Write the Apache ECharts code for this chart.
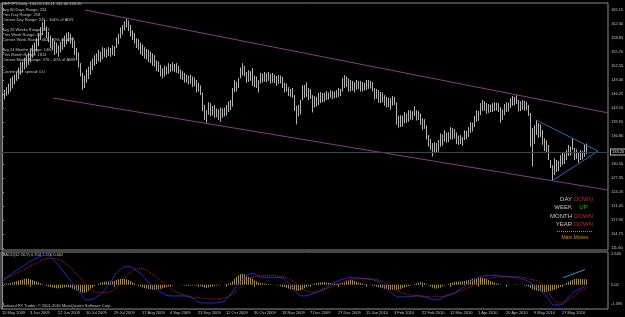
<!DOCTYPE html>
<html>
<head>
<meta charset="utf-8">
<script src="https://cdn.jsdelivr.net/npm/echarts@6/dist/echarts.min.js"></script>
<style>
html,body{margin:0;padding:0;background:#000;}
#main{width:625px;height:317px;}
</style>
</head>
<body>
<div id="main"></div>
<script>
// GBPJPY daily, 15 May 2009 .. Jun 2010, one bar per index
var dateLabels = ['15 May 2009','3 Jun 2009','22 Jun 2009','10 Jul 2009','29 Jul 2009','17 Aug 2009','4 Sep 2009',
	'23 Sep 2009','12 Oct 2009','30 Oct 2009','18 Nov 2009','7 Dec 2009','27 Dec 2009','15 Jan 2010','3 Feb 2010',
	'22 Feb 2010','12 Mar 2010','1 Apr 2010','20 Apr 2010','9 May 2010','27 May 2010'];
var dateIdx = [0,14,28,42,56,70,84,98,112,126,140,154,168,182,196,210,224,238,252,266,280];

var priceTicks = [111.60,114.75,117.90,121.05,124.20,127.35,130.50,136.80,139.95,143.10,146.25,149.40,152.55,155.70,158.85,162.00,165.15];
var macdTicks = [2.64,0,-1.595];
var macdTickText = ['2.640','0.00','-1.595'];
var bidPrice = 133.20;

var barLow = [
	143.2,145.0,145.8,146.2,146.8,147.5,148.4,149.2,149.6,150.6,
	151.2,151.8,152.2,152.8,153.4,154.4,155.0,155.8,157.0,158.4,
	159.6,160.6,158.8,157.9,156.6,156.2,155.0,155.4,154.6,155.6,
	156.2,156.8,157.4,158.0,157.6,156.6,155.0,153.8,152.2,150.2,
	147.2,147.6,148.8,149.6,150.6,151.6,152.6,153.0,153.6,153.4,
	154.0,154.6,154.4,154.8,154.6,155.0,154.8,156.6,157.4,158.8,
	159.6,160.6,161.2,160.4,159.2,158.4,157.6,156.6,156.2,155.2,
	154.8,154.2,154.0,153.4,153.2,152.6,152.4,151.4,151.2,150.2,
	149.8,150.2,150.6,150.8,151.2,151.4,151.2,151.0,150.8,149.6,
	149.4,148.8,148.8,148.4,148.6,147.8,148.0,146.6,146.8,146.0,
	142.4,140.4,139.8,141.6,141.2,141.4,140.9,141.0,140.4,140.0,
	140.9,141.2,141.4,142.2,142.6,143.4,146.7,146.8,147.6,149.8,
	150.4,150.2,148.8,149.0,149.2,148.1,147.8,147.6,146.6,148.6,
	148.8,149.0,148.9,149.2,148.6,148.8,148.7,148.1,148.5,148.6,
	147.6,146.6,146.8,145.8,145.6,145.4,142.4,139.4,141.2,141.6,
	144.8,145.4,145.6,144.9,145.2,142.1,143.2,143.4,143.8,144.2,
	144.4,144.5,144.9,145.0,145.4,145.1,145.3,145.4,145.6,145.8,
	146.8,147.6,147.8,146.8,146.8,147.0,146.6,147.2,147.4,146.8,
	146.8,147.0,147.2,147.4,147.5,146.8,145.0,145.2,144.3,144.2,
	144.4,143.6,143.2,143.3,142.7,143.6,143.8,139.4,138.7,138.8,
	138.9,139.6,139.8,140.0,140.5,140.4,141.3,140.3,140.4,139.3,
	138.2,138.4,136.0,134.4,133.7,132.2,133.0,133.2,133.3,134.4,
	134.6,135.5,135.3,135.4,136.0,136.0,136.2,135.0,134.8,135.0,
	134.6,135.9,136.1,136.6,137.5,137.8,138.8,140.0,140.2,141.5,
	142.4,142.5,141.8,142.0,142.2,142.2,142.4,142.5,142.2,139.8,
	140.4,141.5,142.2,142.3,143.1,143.6,143.7,144.0,142.3,142.4,
	142.7,142.5,142.6,141.3,134.4,130.0,135.0,137.0,136.4,136.6,
	134.8,133.4,133.2,131.4,129.6,126.9,128.0,128.7,128.9,129.8,
	130.3,130.5,131.4,132.3,132.4,133.7,131.4,131.6,130.8,131.4,
	131.5,132.1,132.66];
var barHigh = [
	146.6,147.2,147.8,148.6,149.8,150.2,150.6,151.3,152.2,153.4,
	153.6,154.4,155.0,155.6,156.4,157.3,157.8,158.8,159.9,161.3,
	162.4,162.9,161.4,160.2,159.4,158.8,158.2,157.8,157.2,158.0,
	158.8,159.4,160.0,160.2,159.8,159.0,158.2,156.6,155.6,153.2,
	151.0,150.4,151.8,152.4,153.6,154.2,155.0,155.4,156.2,155.8,
	156.8,156.6,156.4,156.8,156.6,157.2,157.0,159.0,159.8,161.2,
	161.8,162.6,163.3,162.8,161.8,160.6,160.0,158.8,158.6,157.8,
	157.4,156.8,156.4,156.2,155.8,155.4,155.0,153.8,153.6,152.8,
	152.0,152.6,152.4,153.2,153.0,153.4,153.0,153.2,152.6,151.8,
	151.4,151.0,150.6,150.4,150.6,150.2,150.0,149.4,148.8,148.2,
	146.6,143.8,142.6,144.4,144.2,143.6,143.8,143.0,142.8,143.2,
	143.0,143.2,143.8,144.6,144.9,147.6,149.4,149.0,149.8,152.2,
	153.2,152.6,151.2,151.6,151.4,152.1,150.4,150.2,149.4,151.0,
	150.8,151.2,151.0,151.2,150.8,151.0,150.6,150.3,150.5,150.4,
	150.1,148.8,148.6,147.8,147.4,147.6,146.0,143.6,143.8,144.9,
	148.2,148.3,148.9,147.6,147.4,146.0,145.8,145.6,146.5,146.7,
	146.5,146.5,146.9,146.6,147.1,146.9,146.8,147.1,147.6,147.4,
	149.8,150.5,150.2,149.8,149.4,149.2,148.9,149.4,149.2,149.2,
	148.9,148.8,149.4,149.4,149.2,148.9,147.6,147.4,147.1,146.7,
	146.6,146.0,145.6,145.4,145.3,145.8,145.6,144.4,141.4,141.5,
	141.4,142.2,141.9,142.6,142.6,142.4,143.5,142.6,142.4,141.9,
	140.8,140.6,139.2,137.0,136.2,135.2,135.4,135.2,135.9,137.4,
	137.2,138.1,137.6,137.7,138.8,138.6,138.4,137.6,136.9,137.0,
	136.6,138.1,138.0,138.8,139.9,139.8,141.3,142.6,142.4,144.2,
	144.9,144.6,144.2,144.0,143.9,144.2,144.4,144.3,144.2,143.3,
	142.8,144.0,144.4,144.3,145.3,145.8,145.6,146.0,144.9,144.6,
	144.9,144.7,144.5,143.8,142.0,138.6,139.2,140.4,139.7,139.4,
	138.1,136.3,135.8,134.8,131.4,130.2,131.8,131.4,131.2,132.5,
	133.2,132.9,133.6,134.8,134.4,136.3,134.1,133.8,133.2,133.6,
	133.4,134.8,135.11];

// MACD(12,26,9) histogram, one value per bar
var macdHist = [
	0.05,0.08,0.1,0.1,0.15,0.2,0.25,0.3,0.35,0.4,
	0.45,0.5,0.52,0.5,0.45,0.4,0.33,0.27,0.2,0.12,
	0.05,-0.02,-0.1,-0.15,-0.2,-0.24,-0.28,-0.3,-0.3,-0.28,
	-0.25,-0.22,-0.2,-0.22,-0.26,-0.32,-0.4,-0.48,-0.56,-0.62,
	-0.68,-0.68,-0.6,-0.5,-0.38,-0.25,-0.12,0.0,0.1,0.18,
	0.22,0.25,0.26,0.27,0.28,0.3,0.34,0.4,0.46,0.5,
	0.52,0.5,0.46,0.4,0.32,0.22,0.12,0.02,-0.08,-0.15,
	-0.22,-0.28,-0.32,-0.36,-0.4,-0.42,-0.42,-0.4,-0.38,-0.34,
	-0.3,-0.25,-0.2,-0.15,-0.1,-0.06,-0.03,0.0,0.02,0.0,
	-0.04,-0.06,-0.08,-0.08,-0.07,-0.06,-0.06,-0.08,-0.1,-0.12,
	-0.18,-0.24,-0.26,-0.22,-0.18,-0.14,-0.1,-0.08,-0.05,-0.03,
	0.0,0.03,0.06,0.1,0.16,0.3,0.5,0.65,0.8,0.9,
	0.92,0.88,0.78,0.68,0.58,0.48,0.38,0.28,0.2,0.15,
	0.12,0.1,0.08,0.06,0.04,0.02,0.0,-0.03,-0.06,-0.1,
	-0.14,-0.2,-0.26,-0.32,-0.38,-0.42,-0.46,-0.5,-0.52,-0.48,
	-0.4,-0.3,-0.2,-0.1,0.0,0.05,0.1,0.14,0.18,0.2,
	0.22,0.22,0.2,0.18,0.15,0.12,0.1,0.08,0.08,0.1,
	0.15,0.22,0.3,0.36,0.4,0.38,0.32,0.26,0.2,0.15,
	0.1,0.06,0.03,0.0,-0.03,-0.06,-0.1,-0.15,-0.2,-0.25,
	-0.3,-0.34,-0.38,-0.4,-0.42,-0.42,-0.4,-0.42,-0.4,-0.35,
	-0.3,-0.24,-0.18,-0.12,-0.06,0.0,0.06,0.12,0.18,0.22,
	0.2,0.14,0.05,-0.06,-0.15,-0.24,-0.3,-0.32,-0.3,-0.24,
	-0.15,-0.06,0.02,0.08,0.14,0.18,0.22,0.24,0.26,0.28,
	0.3,0.32,0.36,0.4,0.45,0.5,0.54,0.58,0.6,0.62,
	0.6,0.55,0.48,0.4,0.32,0.25,0.18,0.12,0.08,0.04,
	0.0,-0.02,-0.03,-0.03,-0.02,0.0,0.02,0.03,0.02,0.0,
	-0.03,-0.06,-0.1,-0.16,-0.26,-0.38,-0.44,-0.48,-0.52,-0.56,
	-0.6,-0.62,-0.6,-0.56,-0.52,-0.48,-0.42,-0.34,-0.26,-0.18,
	-0.08,0.05,0.15,0.25,0.35,0.42,0.48,0.52,0.5,0.48,
	0.47,0.46,0.46];
// MACD main / signal, read at [bar, value]
var macdMain = [[0,0.26],[5,0.94],[11,1.62],[17,2.21],[22,2.47],[27,1.87],[33,0.6],[38,-0.43],[43,-1.28],[48,-0.94],
	[53,-0.09],[58,1.11],[63,1.53],[68,1.11],[74,0.09],[80,-0.68],[85,-0.94],[90,-0.94],[95,-1.11],[100,-1.53],
	[105,-1.53],[110,-1.45],[114,-0.85],[118,0],[122,0.68],[125,0.94],[131,0.6],[139,0.6],[144,0],[148,-0.77],
	[151,-0.94],[155,-0.77],[160,-0.43],[166,0.17],[171,0.51],[175,0.6],[181,0.51],[187,0.34],[192,-0.26],[196,-0.85],
	[199,-1.02],[203,-1.02],[208,-0.94],[213,-1.11],[217,-1.28],[222,-0.94],[228,-0.51],[232,0],[237,0.51],[242,0.77],
	[247,0.77],[252,0.68],[257,0.6],[261,0.43],[265,0.09],[269,-0.43],[273,-1.11],[276,-1.7],[279,-1.7],[283,-1.11],
	[286,-0.6],[291,-0.17],[292,-0.09]];
var macdSignal = [[0,0.51],[5,0.77],[11,1.28],[17,1.79],[23,2.21],[28,2.13],[33,1.62],[38,0.77],[44,-0.26],[49,-0.68],
	[54,-0.6],[59,0.09],[64,1.02],[69,1.36],[75,0.94],[81,0.09],[87,-0.6],[93,-0.94],[99,-1.11],[105,-1.19],
	[111,-1.11],[116,-0.68],[121,0.09],[126,0.68],[133,0.77],[140,0.68],[146,0.26],[151,-0.43],[156,-0.6],[162,-0.34],
	[168,0.09],[174,0.43],[180,0.51],[187,0.43],[193,0],[198,-0.51],[204,-0.85],[210,-0.94],[216,-1.02],[222,-0.94],
	[228,-0.6],[234,-0.17],[240,0.34],[246,0.6],[252,0.68],[258,0.68],[263,0.51],[269,0.17],[274,-0.85],[279,-1.53],
	[284,-1.19],[290,-0.43],[292,-0.34]];

// drawn objects
var channelUpper = [[41.5,165.15],[303,142.0]];
var channelLower = [[25.5,145.35],[303,124.65]];
var triangle = [[267,140.4],[298,133.4],[275,126.7]];
var macdTrend = [[280.5,0.6],[291.5,1.28]];

var FONT = 'Liberation Sans, Arial, sans-serif';
var GRAY = '#c0c0c0';

var barData = barHigh.map(function(h, i){ return [i, barLow[i], h]; });
var histData = macdHist.map(function(v, i){ return [i, v]; });

function vline(params, api, color, y0){
	var i = api.value(0);
	var a = api.coord([i, y0 === undefined ? api.value(1) : y0]);
	var b = api.coord([i, y0 === undefined ? api.value(2) : api.value(1)]);
	var x = Math.round(a[0]) + 0.5;
	return {type:'line', shape:{x1:x, y1:a[1], x2:x, y2:b[1]}, style:{stroke:color, lineWidth:1}};
}

function txt(x, y, s, color, size, align){
	return {type:'text', x:x, y:y, silent:true,
		style:{text:s, fill:color, fontSize:size, fontFamily:FONT, align:align || 'left', verticalAlign:'middle'}};
}

var infoLines = [
	[4,'GBPJPY,Daily  134.26 135.11 132.66 133.20'],
	[9.5,'Avg 60 Days Range: 234'],[14.5,'Prev Day Range: 218'],[19.5,'Current Day Range: 245 - 104% of ADR'],
	[29.5,'Avg 26 Weeks Range: 521'],[34.5,'Prev Week Range: 209'],[39.5,'Current Week Range: 464 - 89% of AWR'],
	[49.5,'Avg 24 Months Range: 1460'],[54.5,'Prev Month Range: 1814'],[59.5,'Current Month Range: 576 - 40% of AMR'],
	[71.5,'Current Pair spread: 0.0']
];
var graphics = infoLines.map(function(l){ return txt(2, l[0], l[1], GRAY, 4); });
graphics.push(txt(2, 254.5, 'MACD(12,26,9) 0.704 1.166 0.462', GRAY, 4));
graphics.push(txt(2, 305.5, 'Tadawul FX Trader, \u00a9 2001-2010 MetaQuotes Software Corp.', GRAY, 4));
// trend panel
var trend = [['DAY','DOWN',199.5],['WEEK','UP',207.8],['MONTH','DOWN',216],['YEAR','DOWN',224.2]];
trend.forEach(function(t){
	graphics.push(txt(572, t[2], t[0], '#c8c8c8', 6, 'right'));
	graphics.push(txt(583.5, t[2], t[1], t[1] == 'UP' ? '#12c012' : '#c8282a', 6, 'center'));
});
graphics.push({type:'line', silent:true, shape:{x1:557, y1:231.5, x2:592, y2:231.5},
	style:{stroke:'#d08020', lineWidth:1, lineDash:[1,1]}});
graphics.push(txt(575, 237.5, 'Main Moves', '#e08a1a', 5, 'center'));

var myChart = echarts.init(document.getElementById('main'));
var option = {
	backgroundColor:'#000',
	animation:false,
	graphic:graphics,
	grid:[
		{left:1, top:3, width:607, height:247, show:true, borderColor:'#8c8c8c', borderWidth:1, outerBoundsMode:'none'},
		{left:1, top:252, width:607, height:57, show:true, borderColor:'#8c8c8c', borderWidth:1, outerBoundsMode:'none'}
	],
	xAxis:[
		{type:'value', gridIndex:0, min:-0.5, max:303, show:false},
		{type:'value', gridIndex:1, min:-0.5, max:303,
			axisLine:{show:false}, splitLine:{show:false},
			axisTick:{show:true, customValues:dateIdx, length:2, lineStyle:{color:'#8c8c8c'}},
			axisLabel:{customValues:dateIdx, color:GRAY, fontSize:4, fontFamily:FONT, align:'left', margin:2,
				formatter:function(v){ return dateLabels[dateIdx.indexOf(Math.round(v))] || ''; }}}
	],
	yAxis:[
		{type:'value', gridIndex:0, position:'right', min:111.15, max:166.725, splitLine:{show:false},
			axisLine:{show:true, lineStyle:{color:'#8c8c8c'}},
			axisTick:{show:true, customValues:priceTicks, length:2, lineStyle:{color:'#8c8c8c'}},
			axisLabel:{customValues:priceTicks, color:GRAY, fontSize:4, fontFamily:FONT, margin:3,
				formatter:function(v){ return v.toFixed(2); }}},
		{type:'value', gridIndex:1, position:'right', min:-2.04, max:2.76, splitLine:{show:false},
			axisLine:{show:true, lineStyle:{color:'#8c8c8c'}},
			axisTick:{show:true, customValues:macdTicks, length:2, lineStyle:{color:'#8c8c8c'}},
			axisLabel:{customValues:macdTicks, color:GRAY, fontSize:4, fontFamily:FONT, margin:3,
				formatter:function(v){
					for (var k = 0; k < macdTicks.length; k++) if (Math.abs(macdTicks[k] - v) < 1e-6) return macdTickText[k];
					return '';
				}}}
	],
	series:[
		{
			type:'line', xAxisIndex:0, yAxisIndex:0, data:channelUpper, symbol:'none', silent:true,
			lineStyle:{color:'#8a3a8a', width:1},
			markLine:{
				silent:true, symbol:['none','none'], data:[{yAxis:bidPrice}],
				lineStyle:{color:'#34464e', type:'solid', width:1},
				label:{show:true, position:'end', distance:3, formatter:bidPrice.toFixed(2), color:'#e8e8e8',
					fontSize:4, fontFamily:FONT, backgroundColor:'#000', borderColor:'#c0c0c0', borderWidth:1, padding:[1,1,0,1]}
			}
		},
		{type:'line', xAxisIndex:0, yAxisIndex:0, data:channelLower, symbol:'none', silent:true,
			lineStyle:{color:'#8a3a8a', width:1}},
		{
			type:'custom', xAxisIndex:0, yAxisIndex:0, clip:true, silent:true,
			dimensions:['i','low','high'], encode:{x:0, y:[1,2]},
			data:barData,
			renderItem:function(params, api){ return vline(params, api, '#b4b4b4'); }
		},
		{type:'line', xAxisIndex:0, yAxisIndex:0, data:triangle, symbol:'none', silent:true,
			lineStyle:{color:'#2c6cb4', width:1}},
		{
			type:'custom', xAxisIndex:1, yAxisIndex:1, clip:true, silent:true,
			data:histData,
			renderItem:function(params, api){ return vline(params, api, '#b0883a', 0); }
		},
		{type:'line', xAxisIndex:1, yAxisIndex:1, data:macdMain, symbol:'none', smooth:true, silent:true,
			lineStyle:{color:'#2626d6', width:1}},
		{type:'line', xAxisIndex:1, yAxisIndex:1, data:macdSignal, symbol:'none', smooth:true, silent:true,
			lineStyle:{color:'#d01c1c', width:1, type:'dotted'}},
		{type:'line', xAxisIndex:1, yAxisIndex:1, data:macdTrend, symbol:'none', silent:true,
			lineStyle:{color:'#3e8ed6', width:1}}
	]
};
myChart.setOption(option);
</script>
</body>
</html>
